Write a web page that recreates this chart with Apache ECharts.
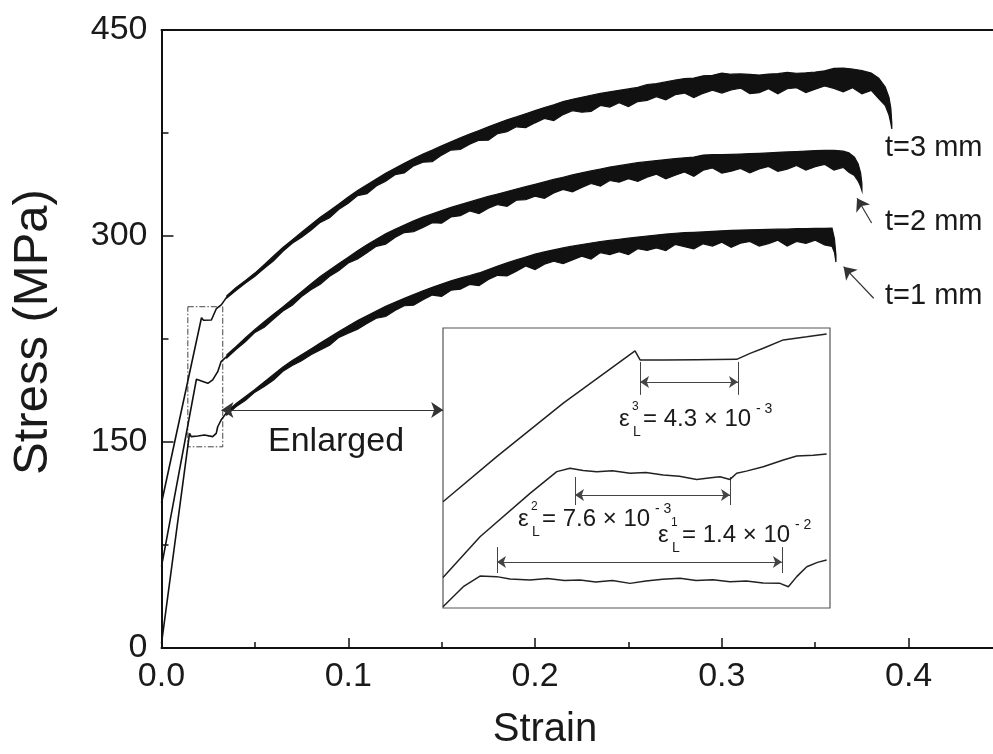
<!DOCTYPE html>
<html><head><meta charset="utf-8">
<script src="https://cdn.jsdelivr.net/npm/echarts@6/dist/echarts.min.js"></script>
<style>html,body{margin:0;padding:0;background:#fff;overflow:hidden;width:993px;height:754px}#c{width:1005px;height:754px}</style>
</head><body><div id="c"></div>
<script>
// ---------- data ----------
const xTicks = [0.0, 0.1, 0.2, 0.3, 0.4];
const yTicks = [0, 150, 300, 450];
const curveLabels = ['t=3 mm', 't=2 mm', 't=1 mm'];

// elastic + yield-plateau part [strain, stress]
const t3Pre = [[0,105.6],[0.0214,240.5],[0.0225,238.6],[0.0267,238.8],[0.0294,247.2],[0.0321,250.0],[0.035,255.7]];
const t2Pre = [[0,59.2],[0.0187,195.7],[0.0194,195.9],[0.0248,192.7],[0.0274,195.2],[0.0301,201.2],[0.0319,208.5],[0.035,212.4]];
const t1Pre = [[0,3.4],[0.015,156.3],[0.0159,153.9],[0.0194,154.4],[0.023,155.1],[0.0274,153.9],[0.0293,156.3],[0.0301,161.1],[0.0319,166.0],[0.0346,170.9],[0.035,171.1]];

// serrated (PLC) band: strain grid and upper / lower envelope of the serrations
const strainGrid = [0.035,0.040,0.045,0.050,0.055,0.060,0.065,0.070,0.075,0.080,
  0.085,0.090,0.095,0.100,0.105,0.110,0.115,0.120,0.125,0.130,
  0.135,0.140,0.145,0.150,0.155,0.160,0.165,0.170,0.175,0.180,
  0.185,0.190,0.195,0.200,0.205,0.210,0.215,0.220,0.225,0.230,
  0.235,0.240,0.245,0.250,0.255,0.260,0.265,0.270,0.275,0.280,
  0.285,0.290,0.295,0.300,0.305,0.310,0.315,0.320,0.325,0.330,
  0.335,0.340,0.345,0.350,0.355];

const t3Upper = [256.6,262.6,267.7,273.0,279.1,285.4,291.6,297.2,302.8,308.2,
  313.6,318.4,323.3,328.4,333.1,337.3,341.5,345.7,349.4,352.9,
  356.4,359.6,362.5,365.6,368.6,371.5,374.2,376.8,379.5,382.1,
  384.6,386.7,389.0,391.3,393.6,395.6,397.9,399.6,401.0,402.5,
  403.8,405.0,406.1,407.1,408.2,410.3,410.9,412.2,413.6,414.6,
  415.0,416.6,417.0,418.6,417.8,418.0,417.7,417.2,417.9,418.2,
  419.1,418.5,418.8,419.4,420.3];
const t3Lower = [254.8,260.4,265.8,270.6,276.4,282.0,288.8,294.7,299.1,304.2,
  309.9,313.3,319.4,323.9,329.4,330.8,336.4,339.8,344.6,346.0,
  351.1,353.7,354.2,358.9,362.6,363.0,366.9,369.7,369.8,374.6,
  375.9,379.5,378.9,382.4,385.6,384.1,388.4,391.3,390.1,390.8,
  395.1,393.9,397.0,394.2,397.9,398.8,401.5,399.1,402.9,404.1,
  400.7,403.9,406.1,404.1,406.3,407.7,403.6,404.3,407.2,403.5,
  407.2,408.0,404.5,406.9,409.2];
const t3TailStrain = [0.360,0.365,0.370,0.375,0.380,0.384,0.3875,0.3895,0.3905,0.391];
const t3TailUpper  = [422.0,422.3,421.6,420.5,418.6,415.0,408.5,401.0,393.0,382.0];
const t3TailLower  = [407.5,405.0,408.0,403.5,406.0,400.0,395.0,388.0,382.0,378.0];

const t2Upper = [213.6,219.5,225.9,232.0,237.6,243.0,248.4,253.9,259.5,265.1,
  270.6,275.2,279.9,284.6,289.3,293.6,297.7,301.6,304.9,308.0,
  311.0,313.7,316.1,318.5,320.8,322.8,324.8,326.8,328.8,330.6,
  332.4,334.2,335.9,337.6,339.4,341.2,342.8,344.5,346.0,347.4,
  348.8,350.2,351.2,352.3,353.4,354.1,354.9,355.6,356.3,356.9,
  357.5,358.9,359.2,359.3,359.5,359.7,360.0,360.2,360.5,360.9,
  361.2,361.5,361.9,362.1,362.3];
const t2Lower = [211.3,217.5,223.2,229.8,233.6,239.6,245.4,249.6,255.9,260.9,
  264.8,270.7,274.8,280.3,283.2,287.8,292.5,294.1,298.9,302.5,
  303.1,306.3,309.7,309.3,313.9,314.8,318.3,316.3,320.2,322.9,
  321.6,326.1,326.5,329.0,327.4,331.4,333.9,332.2,335.4,338.2,
  336.3,340.4,339.2,341.7,339.7,342.9,345.0,341.7,344.2,346.6,
  343.5,347.9,349.5,345.7,347.2,349.2,345.9,348.8,350.6,347.1,
  348.7,351.3,347.9,350.5,352.2];
const t2TailStrain = [0.360,0.365,0.368,0.371,0.373,0.3743,0.375];
const t2TailUpper  = [362.4,361.8,360.5,357.5,352.5,346.0,338.0];
const t2TailLower  = [348.0,350.0,346.5,344.0,340.0,336.0,333.0];

const t1Upper = [172.3,178.0,183.2,188.3,193.8,199.2,204.7,209.4,213.6,217.8,
  222.0,226.3,230.4,234.5,238.4,241.9,245.4,248.9,251.8,254.6,
  257.4,260.1,262.6,265.0,267.3,269.3,271.1,273.1,275.6,278.1,
  280.4,282.6,284.7,286.8,288.4,289.9,291.3,292.6,293.8,294.9,
  296.0,296.8,297.6,298.4,299.2,300.0,300.7,301.4,302.0,302.4,
  302.7,303.0,303.4,303.8,304.1,304.3,304.5,304.7,304.8,305.0,
  305.1,305.3,305.4,305.5,305.6];
const t1Lower = [169.8,175.9,180.4,186.3,190.4,195.1,201.5,205.7,209.2,213.5,
  217.1,220.5,226.2,229.3,232.2,236.3,240.1,241.4,245.8,249.2,
  249.6,253.6,257.0,256.0,260.5,261.3,264.7,263.8,268.3,271.4,
  270.9,274.4,278.2,275.5,279.5,281.6,279.8,282.6,285.3,283.2,
  287.9,286.5,288.6,286.5,290.8,289.5,291.4,289.4,293.8,292.3,
  290.6,294.3,292.7,295.5,291.8,294.8,296.0,292.7,294.5,296.9,
  292.7,296.1,294.6,297.0,293.5];
const t1TailStrain = [0.359,0.3603,0.3611];
const t1TailUpper  = [305.8,298.0,286.0];
const t1TailLower  = [292.5,288.0,281.0];

// annotations in main chart
const zoomBox = [[0.0141,248.5],[0.0328,146.5]];
const enlargedArrow = [[0.0321,173.3],[0.1508,173.3]];
const t2Arrow = [[0.3802,309.5],[0.3724,327.5]];
const t1Arrow = [[0.3813,254.7],[0.3652,277.7]];

// enlarged inset curves
const insetT3 = [[0.0140,183.0],[0.01657,200.4],[0.01975,221.0],[0.02318,241.2],[0.02334,238.9],[0.02342,237.7],
  [0.02453,237.7],[0.02613,237.8],[0.02804,237.9],[0.02868,240.2],[0.02931,242.2],[0.03027,245.4],[0.03139,246.6],[0.03234,247.7]];
const insetT2 = [[0.0140,153.8],[0.01577,169.5],[0.01816,186.2],[0.01944,194.6],[0.02007,195.9],[0.0207,195.0],[0.02135,194.6],
  [0.0221,194.9],[0.02294,194.0],[0.0237,194.3],[0.02453,193.3],[0.0253,192.8],[0.02613,191.6],[0.0268,192.2],[0.02724,192.6],
  [0.02772,191.6],[0.02804,194.0],[0.0285,194.8],[0.02931,196.5],[0.03027,199.1],[0.03091,200.6],[0.0317,200.9],[0.03234,201.4]];
const insetT1 = [[0.0140,142.5],[0.01497,150.2],[0.01577,154.3],[0.01657,154.1],[0.0172,153.2],[0.01816,152.8],[0.0190,153.4],
  [0.0198,152.6],[0.02055,152.8],[0.0213,152.0],[0.0221,152.6],[0.02294,151.5],[0.0237,152.4],[0.0245,153.1],[0.02533,153.5],
  [0.0261,152.6],[0.0269,152.9],[0.02772,152.1],[0.0285,152.4],[0.0293,151.6],[0.03011,151.5],[0.03051,150.2],[0.03091,154.1],
  [0.03139,157.9],[0.0319,159.6],[0.03234,160.5]];
// Lüders strain dimension lines [x1, x2, yTickTop, yTickBottom, yArrow]
const eps3Dim = [0.02342,0.02810,236.9,224.2,229.2];
const eps2Dim = [0.02031,0.02772,192.5,181.7,185.6];
const eps1Dim = [0.01658,0.03020,165.5,155.5,159.7];

// ---------- chart ----------
const FONT = '"Liberation Sans", Arial, Helvetica, sans-serif';
const INK = '#111';
const chart = echarts.init(document.getElementById('c'), null, {renderer: 'canvas'});

function bandSeries(upper, lower, tailS, tailU, tailL) {
  const xs = strainGrid.concat(tailS);
  const us = upper.concat(tailU);
  const ls = lower.concat(tailL);
  return {
    type: 'custom', xAxisIndex: 0, yAxisIndex: 0, silent: true, clip: false, z: 3,
    data: [[0.2, 300]],
    renderItem: function (params, api) {
      const pts = [];
      for (let i = 0; i < xs.length; i++) pts.push(api.coord([xs[i], us[i]]));
      for (let i = xs.length - 1; i >= 0; i--) pts.push(api.coord([xs[i], ls[i]]));
      return {type: 'polygon', shape: {points: pts}, style: {fill: INK, stroke: INK, lineWidth: 1.2, lineJoin: 'miter'}};
    }
  };
}

function dimLines(d) {
  return [
    [{coord: [d[0], d[2]], symbol: 'none'}, {coord: [d[0], d[3]], symbol: 'none'}],
    [{coord: [d[1], d[2]], symbol: 'none'}, {coord: [d[1], d[3]], symbol: 'none'}],
    [{coord: [d[0], d[4]]}, {coord: [d[1], d[4]]}]
  ];
}

const arrowML = (data, sym, size, color, width) => ({
  silent: true, animation: false, symbol: sym, symbolSize: size,
  label: {show: false}, emphasis: {disabled: true},
  lineStyle: {color: color, width: width, type: 'solid'}, data: data
});

const lineBase = {type: 'line', showSymbol: false, symbol: 'none', silent: true, animation: false,
  lineStyle: {color: INK, width: 1.6}, z: 3};

const option = {
  animation: false,
  backgroundColor: '#fff',
  grid: [
    {left: 161.5, top: 30, right: 0, bottom: 106},
    {left: 443, top: 328, width: 387, height: 280, show: true, backgroundColor: '#fff',
     borderColor: '#555', borderWidth: 1.2, z: 5}
  ],
  xAxis: [
    {type: 'value', gridIndex: 0, min: 0, max: 0.45, interval: 0.1,
     axisLine: {show: true, onZero: false, lineStyle: {color: INK, width: 2}},
     axisTick: {show: true, inside: true, length: 10, lineStyle: {color: INK, width: 1.5}},
     minorTick: {show: true, splitNumber: 2, length: 6, lineStyle: {color: INK, width: 1.5}},
     splitLine: {show: false}, minorSplitLine: {show: false},
     axisLabel: {color: '#1a1a1a', fontSize: 34, fontFamily: FONT, margin: 12,
       formatter: v => (xTicks.some(t => Math.abs(t - v) < 1e-9) ? v.toFixed(1) : '')}},
    {type: 'value', gridIndex: 0, position: 'top', min: 0, max: 0.45,
     axisLine: {show: true, onZero: false, lineStyle: {color: INK, width: 2}},
     axisTick: {show: false}, axisLabel: {show: false}, splitLine: {show: false}},
    {type: 'value', gridIndex: 1, min: 0.014, max: 0.0325, show: false, splitLine: {show: false}}
  ],
  yAxis: [
    {type: 'value', gridIndex: 0, min: 0, max: 450, interval: 150,
     axisLine: {show: true, onZero: false, lineStyle: {color: INK, width: 2}},
     axisTick: {show: true, inside: true, length: 12, lineStyle: {color: INK, width: 1.5}},
     minorTick: {show: true, splitNumber: 2, length: 7, lineStyle: {color: INK, width: 1.5}},
     splitLine: {show: false}, minorSplitLine: {show: false},
     axisLabel: {color: '#1a1a1a', fontSize: 34, fontFamily: FONT, margin: 14,
       formatter: v => (yTicks.indexOf(v) >= 0 ? String(v) : '')}},
    {type: 'value', gridIndex: 1, min: 142, max: 250, show: false, splitLine: {show: false}}
  ],
  series: [
    Object.assign({}, lineBase, {name: curveLabels[0], data: t3Pre,
      markArea: {silent: true, label: {show: false},
        itemStyle: {color: 'rgba(0,0,0,0)', borderColor: '#444', borderWidth: 1, borderType: [6, 2, 1.5, 2]},
        data: [[{coord: zoomBox[0]}, {coord: zoomBox[1]}]]},
      markLine: arrowML([[{coord: enlargedArrow[0]}, {coord: enlargedArrow[1]}]], ['arrow', 'arrow'], 12, '#333', 1.2)}),
    Object.assign({}, lineBase, {name: curveLabels[1], data: t2Pre,
      markLine: arrowML([[{coord: t2Arrow[0]}, {coord: t2Arrow[1]}]], ['none', 'arrow'], 12, '#333', 1.2)}),
    Object.assign({}, lineBase, {name: curveLabels[2], data: t1Pre,
      markLine: arrowML([[{coord: t1Arrow[0]}, {coord: t1Arrow[1]}]], ['none', 'arrow'], 12, '#333', 1.2)}),
    bandSeries(t3Upper, t3Lower, t3TailStrain, t3TailUpper, t3TailLower),
    bandSeries(t2Upper, t2Lower, t2TailStrain, t2TailUpper, t2TailLower),
    bandSeries(t1Upper, t1Lower, t1TailStrain, t1TailUpper, t1TailLower),
    Object.assign({}, lineBase, {xAxisIndex: 2, yAxisIndex: 1, data: insetT3, z: 10,
      lineStyle: {color: '#222', width: 1.5},
      markLine: arrowML(dimLines(eps3Dim), ['arrow', 'arrow'], 9, '#444', 1)}),
    Object.assign({}, lineBase, {xAxisIndex: 2, yAxisIndex: 1, data: insetT2, z: 10,
      lineStyle: {color: '#222', width: 1.5},
      markLine: arrowML(dimLines(eps2Dim), ['arrow', 'arrow'], 9, '#444', 1)}),
    Object.assign({}, lineBase, {xAxisIndex: 2, yAxisIndex: 1, data: insetT1, z: 10,
      lineStyle: {color: '#222', width: 1.5},
      markLine: arrowML(dimLines(eps1Dim), ['arrow', 'arrow'], 9, '#444', 1)})
  ],
  graphic: (function () {
    const T = (text, x, y, size, extra) => Object.assign({type: 'text', x: x, y: y, z: 100, silent: true,
      style: {text: text, font: size + 'px ' + FONT, fill: '#1a1a1a', align: 'left', verticalAlign: 'middle'}}, extra || {});
    const g = [];
    g.push(T('Stress (MPa)', 33, 332, 49, {rotation: Math.PI / 2}));
    g[0].style.align = 'center';
    const s = T('Strain', 545, 730, 40); s.style.align = 'center'; g.push(s);
    g.push(T(curveLabels[0], 885, 148, 29));
    g.push(T(curveLabels[1], 885, 222, 29));
    g.push(T(curveLabels[2], 885, 296, 29));
    g.push(T('Enlarged', 268, 442, 34));
    // inset labels
    const eps = (x, y, sup, main, exp) => {
      g.push(T('ε', x, y, 24));
      g.push(T(sup, x + 13, y - 12, 12));
      g.push(T('L', x + 14, y + 13, 14));
      g.push(T(main, x + 24, y, 24));
      g.push(T(exp, x + 24 + 113, y - 10, 14));
    };
    eps(619, 419, '3', '= 4.3 × 10', '- 3');
    eps(518, 519, '2', '= 7.6 × 10', '- 3');
    eps(658, 535, '1', '= 1.4 × 10', '- 2');
    return g;
  })()
};
chart.setOption(option);
</script></body></html>
